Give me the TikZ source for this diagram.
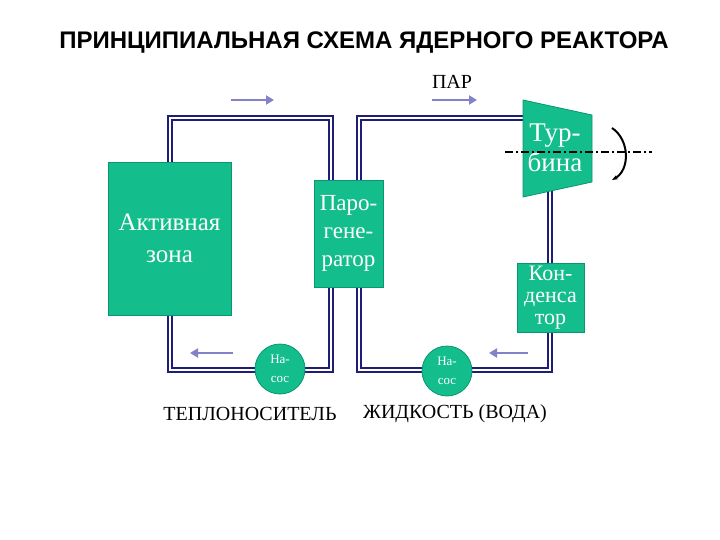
\documentclass[tikz,border=0pt]{standalone}
\usepackage{fontspec}
\setmainfont{Liberation Serif}
\newfontfamily\titlefont{Liberation Sans}
\usetikzlibrary{arrows.meta}
\definecolor{box}{RGB}{20,190,140}
\definecolor{boxedge}{RGB}{10,150,110}
\definecolor{pipe}{RGB}{30,30,120}
\definecolor{flow}{RGB}{130,130,200}
\tikzset{
  pipeline/.style={draw=pipe,line width=2pt,double=white,double distance=2.8pt},
  unit/.style={fill=box,draw=boxedge,line width=0.8pt,text=white,align=center,inner sep=0pt},
  pumpc/.style={circle,fill=box,draw=boxedge,line width=0.8pt,text=white,align=center,minimum size=50pt,inner sep=0pt,font=\fontsize{13}{19}\selectfont},
  flowarrow/.style={draw=flow,line width=2.6pt,-{Triangle[length=8pt,width=9pt]}},
  lbl/.style={font=\fontsize{20}{22}\selectfont,inner sep=0pt}
}
\begin{document}
\begin{tikzpicture}[x=1pt,y=-1pt]
\useasboundingbox (0,0) rectangle (720,540);
\node[font=\titlefont\bfseries\fontsize{24}{26}\selectfont] (title) at (364,43) {ПРИНЦИПИАЛЬНАЯ СХЕМА ЯДЕРНОГО РЕАКТОРА};
\node[lbl] (par) at (452,82) {ПАР};
% corners
\coordinate (a1) at (170,118); \coordinate (a2) at (331,118);
\coordinate (a3) at (331,370); \coordinate (a4) at (170,370);
\coordinate (b1) at (359,118); \coordinate (b2) at (530,118);
\coordinate (b3) at (550,190); \coordinate (b4) at (550,370);
\coordinate (b5) at (359,370);
\draw[pipeline] (a4) -- (a1) -- (a2) -- (a3) -- cycle;
\draw[pipeline] (b2) -- (b1) -- (b5) -- (b4) -- (b3);
% units
\node[unit,minimum width=123pt,minimum height=153pt,font=\fontsize{25}{32}\selectfont] (core) at (169.5,238.5) {Активная\\зона};
\node[unit,minimum width=69pt,minimum height=107pt,font=\fontsize{23}{28}\selectfont] (pg) at (348.5,233.5) {Паро-\\гене-\\ратор};
\node[unit,minimum width=67pt,minimum height=69pt,font=\fontsize{22}{22}\selectfont] (cond) at (550.5,297.5) {Кон-\\денса\\тор};
\draw[fill=box,draw=boxedge,line width=0.8pt] (523,100) -- (592,115) -- (592,182) -- (523,197) -- cycle;
\node[text=white,align=center,font=\fontsize{27}{30}\selectfont] (turb) at (555,148) {Тур-\\бина};
\node[pumpc] (p1) at (280,369) {На-\\сос};
\node[pumpc] (p2) at (447,371) {На-\\сос};
% shaft
\coordinate (s1) at (505,152); \coordinate (s2) at (652,152);
\draw[black,line width=1.6pt,dash pattern=on 8pt off 3pt on 2pt off 3pt] (s1) -- (s2);
\coordinate (r1) at (612,128); \coordinate (r2) at (612,180);
\draw[black,line width=2pt,-{Stealth[length=6pt]}] (r1) .. controls (630,140) and (630,170) .. (r2);
% flow arrows
\coordinate (f1) at (231,100); \coordinate (f2) at (274,100);
\coordinate (f3) at (432,100); \coordinate (f4) at (477,100);
\coordinate (f5) at (233,353); \coordinate (f6) at (190,353);
\coordinate (f7) at (528,353); \coordinate (f8) at (489,353);
\draw[flowarrow] (f1) -- (f2);
\draw[flowarrow] (f3) -- (f4);
\draw[flowarrow] (f5) -- (f6);
\draw[flowarrow] (f7) -- (f8);
\node[lbl] (l1) at (250,414) {ТЕПЛОНОСИТЕЛЬ};
\node[lbl] (l2) at (455,414) {ЖИДКОСТЬ (ВОДА)};
\end{tikzpicture}
\end{document}
